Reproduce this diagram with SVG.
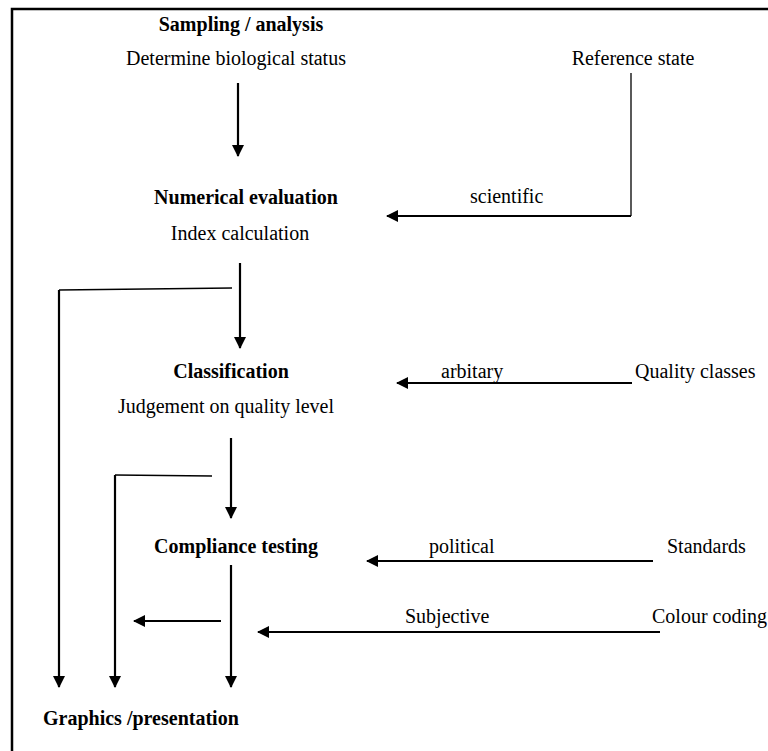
<svg xmlns="http://www.w3.org/2000/svg" width="768" height="751" viewBox="0 0 768 751">
<defs>
<marker id="ah" markerUnits="userSpaceOnUse" markerWidth="12" markerHeight="12" viewBox="0 0 12 12" refX="11" refY="6" orient="auto">
<path d="M0,0 L12,6 L0,12 Z" fill="#000"/>
</marker>
<style>
text{font-family:"Liberation Serif","Times New Roman",serif;font-size:20px;fill:#000}
.b{font-weight:bold}
.m{text-anchor:middle}
.th{stroke:#000;stroke-width:2.2;fill:none}
.tn{stroke:#000;stroke-width:1.3;fill:none}
</style>
</defs>
<rect width="768" height="751" fill="#fff"/>
<path d="M12,751 V9 H768" stroke="#000" stroke-width="2.5" fill="none"/>
<g id="sampling"><text class="b m" x="241" y="31">Sampling / analysis</text><text class="m" x="236" y="65">Determine biological status</text></g>
<g id="reference"><text class="m" x="633" y="65">Reference state</text></g>
<g id="numerical"><text class="b m" x="246" y="204">Numerical evaluation</text><text class="m" x="240" y="240">Index calculation</text></g>
<g id="classification"><text class="b m" x="231" y="378">Classification</text><text class="m" x="226" y="413">Judgement on quality level</text></g>
<g id="quality"><text x="635" y="378">Quality classes</text></g>
<g id="compliance"><text class="b m" x="236" y="553">Compliance testing</text></g>
<g id="standards"><text x="667" y="553">Standards</text></g>
<g id="colour"><text x="652" y="623">Colour coding</text></g>
<g id="graphics"><text class="b" x="43" y="725">Graphics /presentation</text></g>
<g id="connectors">
<line class="th" x1="238" y1="83" x2="238" y2="156" marker-end="url(#ah)"/>
<path class="tn" d="M631,73 V216"/>
<line class="th" x1="631" y1="216" x2="387" y2="216" marker-end="url(#ah)"/>
<text x="470" y="203">scientific</text>
<line class="th" x1="240" y1="263" x2="240" y2="348" marker-end="url(#ah)"/>
<path class="tn" d="M232,288 L59,290"/>
<line class="th" x1="59" y1="290" x2="59" y2="687" marker-end="url(#ah)"/>
<line class="th" x1="632" y1="383" x2="397" y2="383" marker-end="url(#ah)"/>
<text x="441" y="378">arbitary</text>
<line class="th" x1="231" y1="438" x2="231" y2="518" marker-end="url(#ah)"/>
<path class="tn" d="M212,476 L115,475"/>
<line class="th" x1="115" y1="475" x2="115" y2="687" marker-end="url(#ah)"/>
<line class="th" x1="653" y1="561" x2="367" y2="561" marker-end="url(#ah)"/>
<text x="429" y="553">political</text>
<line class="th" x1="231" y1="565" x2="231" y2="687" marker-end="url(#ah)"/>
<line class="th" x1="221" y1="621" x2="134" y2="621" marker-end="url(#ah)"/>
<line class="th" x1="660" y1="632" x2="258" y2="632" marker-end="url(#ah)"/>
<text x="405" y="623">Subjective</text>
</g>
</svg>
